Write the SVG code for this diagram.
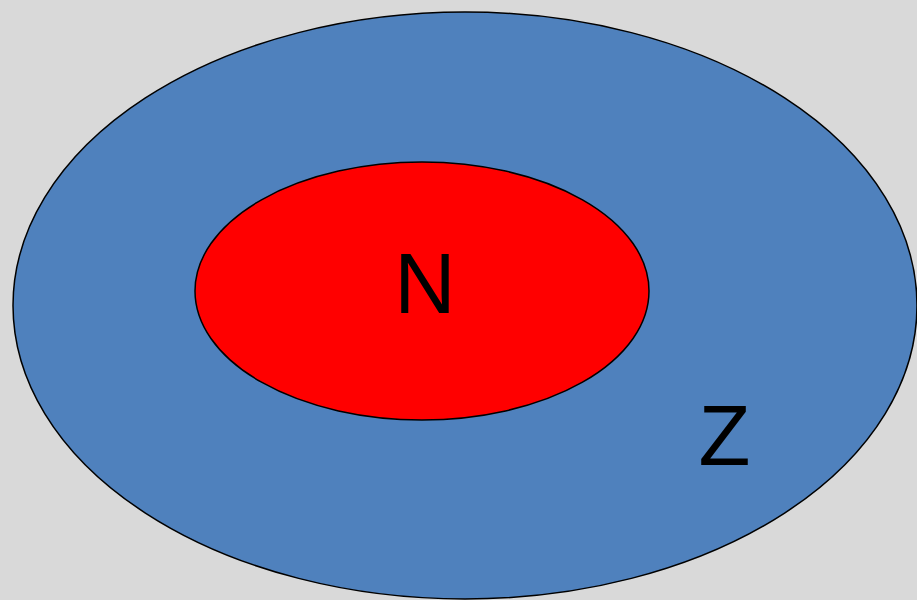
<svg xmlns="http://www.w3.org/2000/svg" width="917" height="600" viewBox="0 0 917 600">
<style>
.lbl{font-family:"Liberation Sans",Arial,sans-serif;font-size:85px;fill:#000;text-anchor:middle}
.sh{stroke:#000;stroke-width:1.5}
</style>
<rect width="917" height="600" fill="#d9d9d9"/>
<g id="Z">
<ellipse class="sh" cx="465" cy="305.5" rx="452" ry="293.5" fill="#4f81bd"/>
<text class="lbl" x="724.5" y="465">Z</text>
</g>
<g id="N">
<ellipse class="sh" cx="422" cy="291" rx="227" ry="129" fill="#ff0000"/>
<text class="lbl" x="425" y="313">N</text>
</g>
<g id="connectors"/>
</svg>
